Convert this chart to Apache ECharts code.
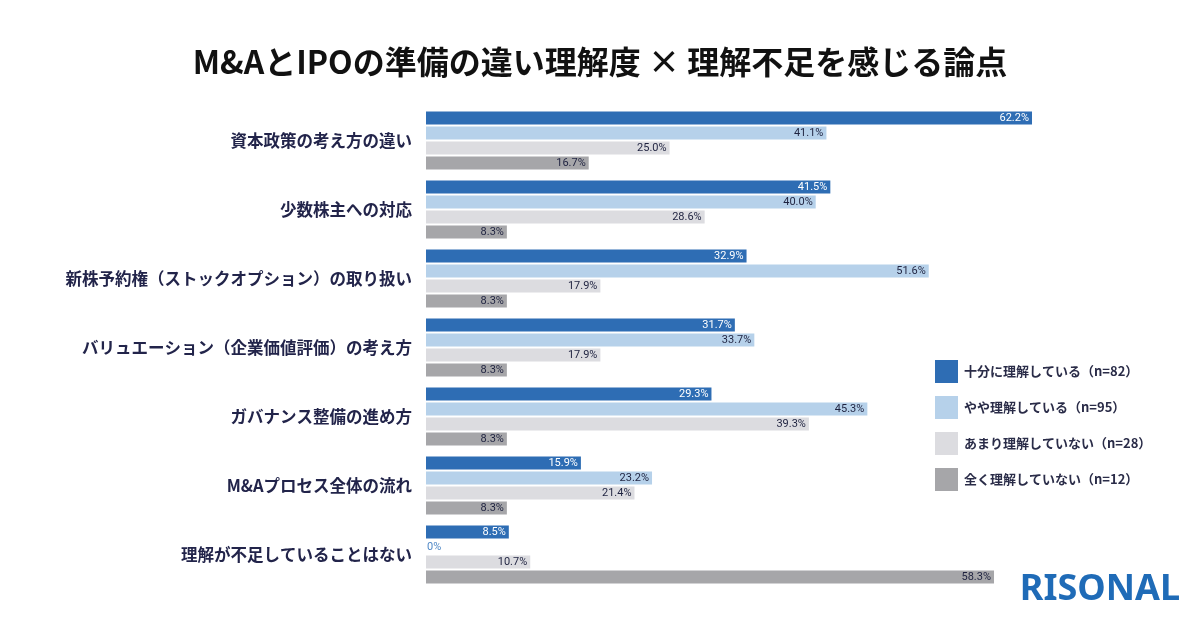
<!DOCTYPE html>
<html>
<head>
<meta charset="utf-8">
<script src="https://cdn.jsdelivr.net/npm/echarts@6/dist/echarts.min.js"></script>
<style>
  html, body { margin: 0; padding: 0; background: #fff; }
  #main { width: 1200px; height: 628px; }
</style>
</head>
<body>
<div id="main"></div>
<script>
// 論点（カテゴリ）
var categories = [
  '資本政策の考え方の違い',
  '少数株主への対応',
  '新株予約権（ストックオプション）の取り扱い',
  'バリュエーション（企業価値評価）の考え方',
  'ガバナンス整備の進め方',
  'M&Aプロセス全体の流れ',
  '理解が不足していることはない'
];

var seriesNames = [
  '十分に理解している（n=82）',
  'やや理解している（n=95）',
  'あまり理解していない（n=28）',
  '全く理解していない（n=12）'
];

// 各グループの値（%）
var fullyUnderstand = [62.2, 41.5, 32.9, 31.7, 29.3, 15.9, 8.5];
var somewhatUnderstand = [41.1, 40.0, 51.6, 33.7, 45.3, 23.2, 0];
var notMuchUnderstand = [25.0, 28.6, 17.9, 17.9, 39.3, 21.4, 10.7];
var notAtAllUnderstand = [16.7, 8.3, 8.3, 8.3, 8.3, 8.3, 58.3];

var colors = ['#2e6db4', '#b6d1ea', '#dcdce0', '#a6a6a9'];
var labelColors = ['#ffffff', '#1f2340', '#1f2340', '#1f2340'];

var chart = echarts.init(document.getElementById('main'));

function makeSeries(name, values, idx) {
  return {
    name: name,
    type: 'bar',
    barWidth: 13,
    barGap: '15%',
    itemStyle: { color: colors[idx] },
    label: {
      show: true,
      position: 'insideRight',
      formatter: function (p) { return p.value.toFixed(1) + '%'; },
      fontSize: 11,
      fontFamily: '"Liberation Sans Narrow", Roboto, sans-serif',
      color: labelColors[idx],
      distance: 3
    },
    data: values.map(function (v) {
      if (v === 0) {
        // 0% は軸の右側に表示
        return {
          value: v,
          label: {
            position: 'right',
            distance: 1,
            color: '#4f88c6',
            formatter: '0%'
          }
        };
      }
      return v;
    })
  };
}

var option = {
  backgroundColor: '#ffffff',
  textStyle: { fontFamily: '"Noto Sans CJK JP", "Noto Sans", sans-serif' },
  title: {
    text: 'M&AとIPOの準備の違い理解度 × 理解不足を感じる論点',
    left: 'center',
    top: 41,
    textStyle: {
      fontSize: 32,
      fontWeight: 'bold',
      color: '#111111',
      fontFamily: '"Noto Sans CJK JP", sans-serif'
    }
  },
  legend: {
    orient: 'vertical',
    left: 930,
    top: 355,
    itemWidth: 23,
    itemHeight: 23,
    itemGap: 13,
    icon: 'rect',
    data: seriesNames,
    textStyle: {
      fontSize: 13,
      fontWeight: 'bold',
      color: '#2a2c48',
      padding: [0, 0, 0, 1]
    }
  },
  grid: {
    left: 426,
    top: 106,
    width: 682,
    height: 483
  },
  xAxis: {
    type: 'value',
    min: 0,
    max: 70,
    show: false
  },
  yAxis: {
    type: 'category',
    inverse: true,
    data: categories,
    axisLine: { show: false },
    axisTick: { show: false },
    axisLabel: {
      fontSize: 16.5,
      fontWeight: 'bold',
      color: '#22244a',
      margin: 14
    }
  },
  graphic: [{
    type: 'text',
    right: 20,
    top: 572,
    style: {
      text: 'RISONAL',
      fontSize: 36,
      fontWeight: 'bold',
      fontFamily: '"Noto Sans", sans-serif',
      fill: '#1f6bb7'
    }
  }],
  series: [
    makeSeries(seriesNames[0], fullyUnderstand, 0),
    makeSeries(seriesNames[1], somewhatUnderstand, 1),
    makeSeries(seriesNames[2], notMuchUnderstand, 2),
    makeSeries(seriesNames[3], notAtAllUnderstand, 3)
  ]
};

chart.setOption(option);
</script>
</body>
</html>
